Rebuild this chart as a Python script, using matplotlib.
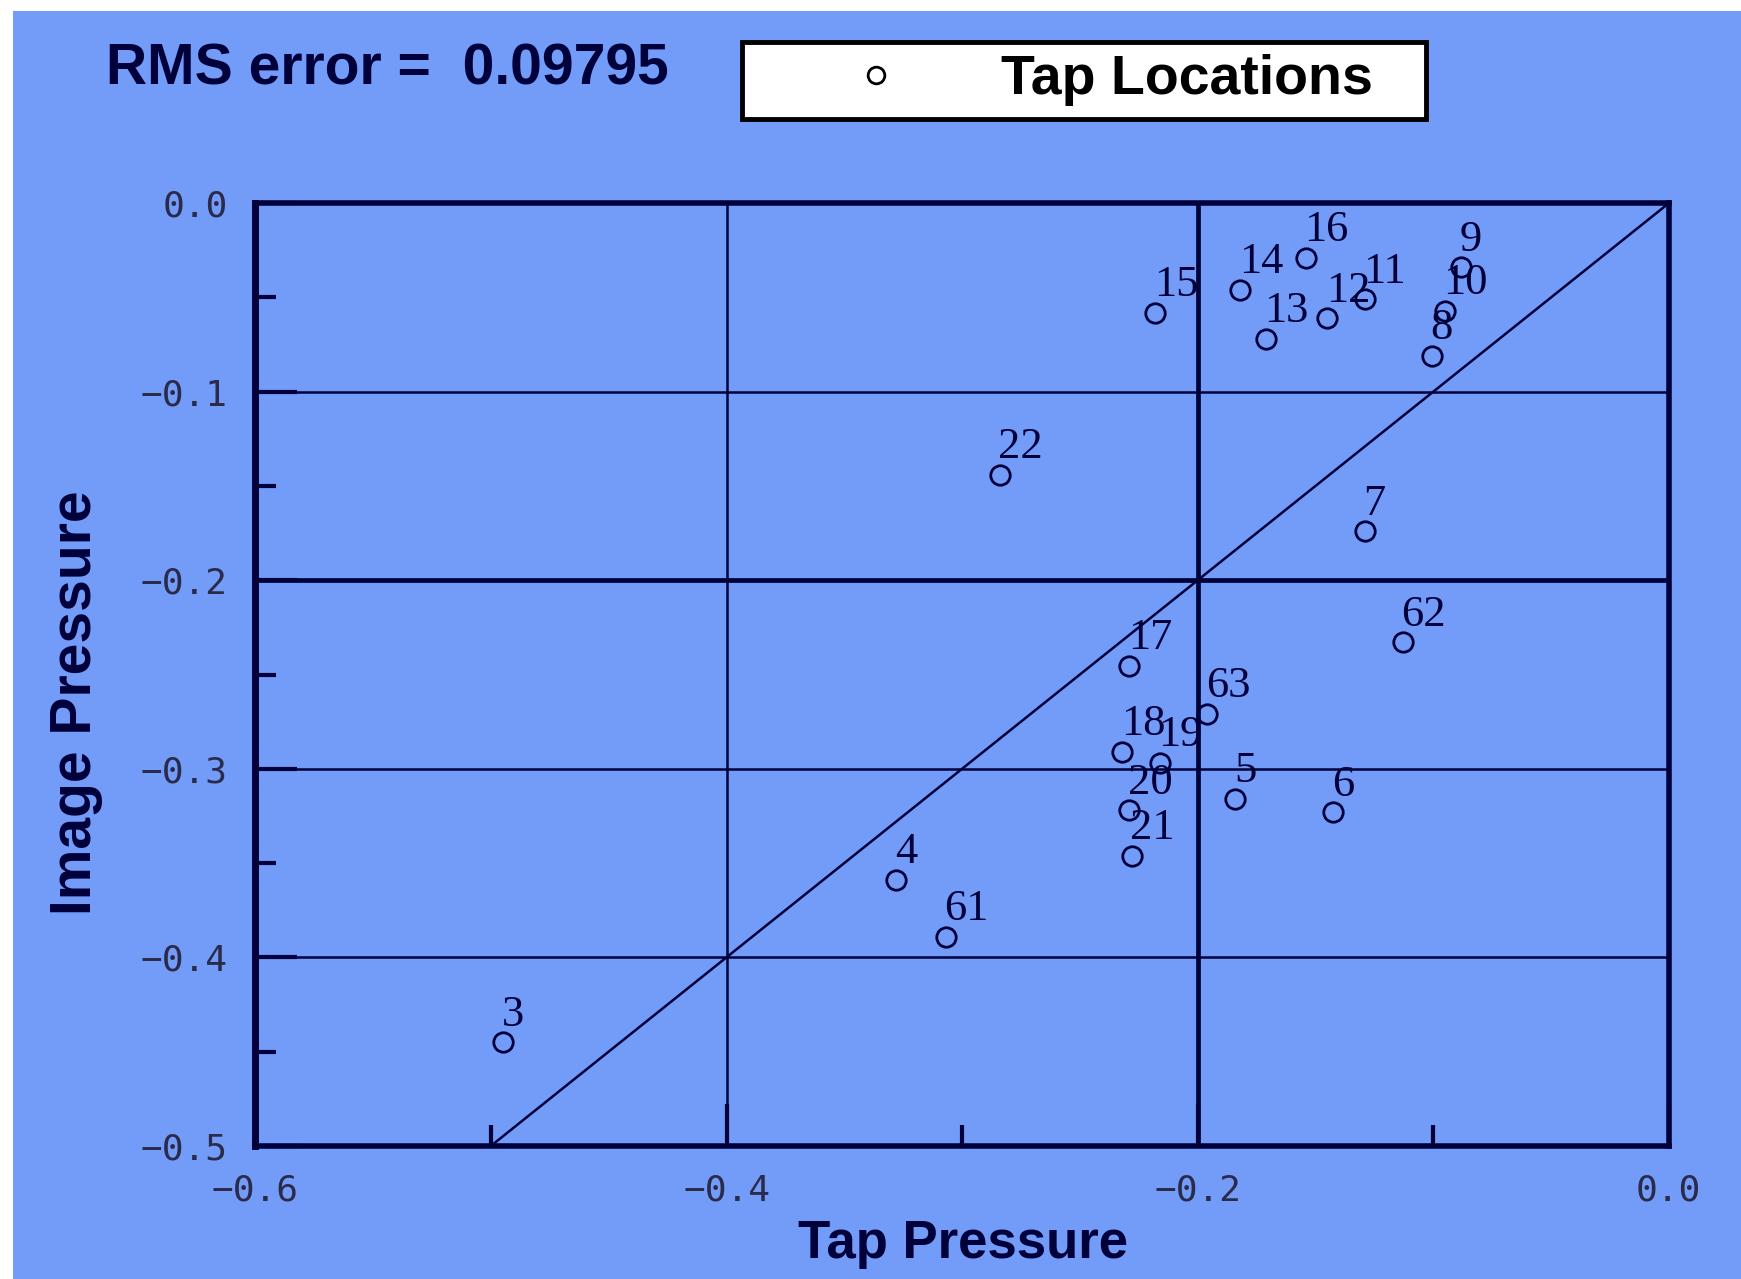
import matplotlib.pyplot as plt
from matplotlib.patches import Rectangle

# tap locations: id, tap pressure (x), image pressure (y)
tap_ids = ['3', '4', '5', '6', '7', '8', '9', '10', '11', '12', '13', '14',
           '15', '16', '17', '18', '19', '20', '21', '22', '61', '62', '63']
tap_pressure = [-0.495, -0.328, -0.184, -0.1425, -0.129, -0.1005, -0.088, -0.095,
                -0.129, -0.145, -0.171, -0.182, -0.218, -0.154, -0.229, -0.232,
                -0.216, -0.229, -0.228, -0.284, -0.307, -0.113, -0.196]
image_pressure = [-0.445, -0.359, -0.316, -0.323, -0.174, -0.081, -0.034, -0.057,
                  -0.051, -0.061, -0.072, -0.046, -0.058, -0.029, -0.2455, -0.291,
                  -0.297, -0.322, -0.346, -0.144, -0.389, -0.233, -0.271]

rms_text = 'RMS error =  0.09795'
x_ticks = [-0.6, -0.4, -0.2, 0.0]
x_tick_labels = ['\u22120.6', '\u22120.4', '\u22120.2', '0.0']
x_minor = [-0.5, -0.3, -0.1]
y_ticks = [-0.5, -0.4, -0.3, -0.2, -0.1, 0.0]
y_tick_labels = ['\u22120.5', '\u22120.4', '\u22120.3', '\u22120.2', '\u22120.1', '0.0']
y_minor = [-0.45, -0.35, -0.25, -0.15, -0.05]

blue = '#739bf8'
navy = '#00003a'

fig = plt.figure(figsize=(17.41, 12.79), dpi=100, facecolor='white')
fig.add_artist(Rectangle((13 / 1741, 0), 1, 1 - 11 / 1279, transform=fig.transFigure,
                         facecolor=blue, edgecolor='none', zorder=-10))

ax = fig.add_axes([0.1467, 0.1041, 0.8118, 0.737])
ax.set_facecolor(blue)

ax.plot(tap_pressure, image_pressure, 'o', ms=14, mfc='none', mec=navy, mew=2,
        label='Tap Locations', zorder=5)
for name, x, y in zip(tap_ids, tap_pressure, image_pressure):
    ax.annotate(name, (x, y), xytext=(-1, 12), textcoords='offset points',
                ha='left', va='baseline', fontsize=32, color=navy,
                family='Liberation Serif', zorder=6)

ax.axline((0, 0), slope=1, color=navy, lw=1.8, zorder=4)

ax.set_xlim(-0.6, 0.0)
ax.set_ylim(-0.5, 0.0)
ax.set_xticks(x_ticks)
ax.set_xticklabels(x_tick_labels)
ax.set_xticks(x_minor, minor=True)
ax.set_yticks(y_ticks)
ax.set_yticklabels(y_tick_labels)
ax.set_yticks(y_minor, minor=True)

ax.grid(True, which='major', color=navy, lw=1.8)
for t in ax.xaxis.get_major_ticks() + ax.yaxis.get_major_ticks():
    if abs(t.get_loc() + 0.2) < 1e-9:
        t.gridline.set_linewidth(3.4)

ax.tick_params(which='major', direction='in', length=30, width=3, color=navy,
               labelsize=26, labelcolor='#2a2a4a')
ax.tick_params(which='minor', direction='in', length=15, width=3, color=navy)
ax.tick_params(axis='x', which='major', pad=20)
ax.tick_params(axis='y', which='major', pad=20)
for lab in ax.get_xticklabels() + ax.get_yticklabels():
    lab.set_family('DejaVu Sans Mono')

for side in ['top', 'right', 'bottom']:
    ax.spines[side].set_linewidth(4)
    ax.spines[side].set_color(navy)
ax.spines['left'].set_linewidth(5)
ax.spines['left'].set_color(navy)

ax.set_xlabel('Tap Pressure', fontsize=38, fontweight='bold', color=navy,
              family='Liberation Sans')
ax.xaxis.set_label_coords(0.501, -0.078)
ax.set_ylabel('Image Pressure', fontsize=41, fontweight='bold', color=navy,
              family='Liberation Sans')
ax.yaxis.label.set_va('center')
ax.yaxis.set_label_coords(-0.127, 0.47)

fig.text(0.0606, 0.9455, rms_text, fontsize=41, fontweight='bold', color=navy,
         family='Liberation Sans', ha='left', va='center')

leg = fig.legend(loc='upper left', bbox_to_anchor=(0.426, 0.967, 0.3928, 0),
                 bbox_transform=fig.transFigure, mode='expand', borderaxespad=0,
                 fancybox=False, framealpha=1, edgecolor='black',
                 prop={'family': 'Liberation Sans', 'weight': 'bold', 'size': 40},
                 handlelength=4.4, handletextpad=0.05, borderpad=0.22)
leg.get_frame().set_linewidth(3.5)
for h in leg.legend_handles:
    h.set_markersize(12)
    h.set_markeredgecolor('black')

fig.savefig('out.png', dpi=100, facecolor=fig.get_facecolor())
